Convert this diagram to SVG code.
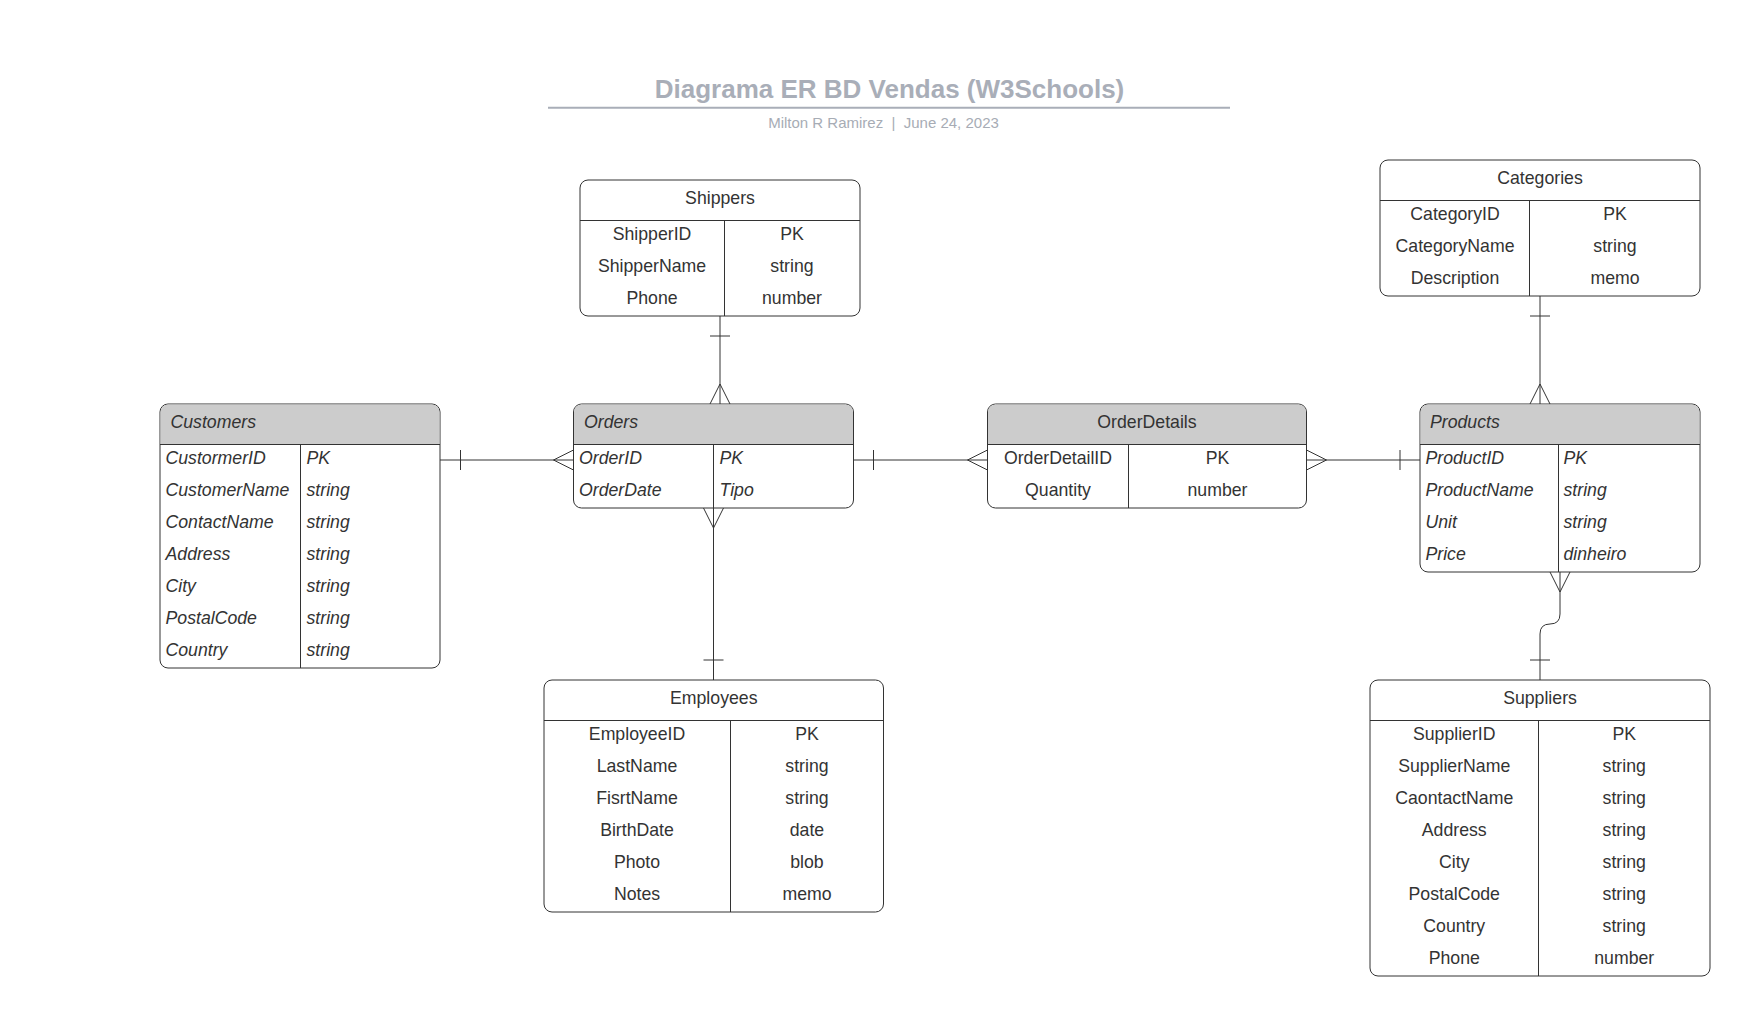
<svg xmlns="http://www.w3.org/2000/svg" width="1757" height="1016" viewBox="0 0 1757 1016">
<style>
.box{fill:#ffffff;stroke:#333333;stroke-width:1}
.hdr{fill:#cccccc;stroke:none}
.div{stroke:#333333;stroke-width:1;fill:none}
.t{font-family:"Liberation Sans",Arial,sans-serif;font-size:17.7px;fill:#333333}
.c{text-anchor:middle}
.i{font-style:italic}
.con{stroke:#333333;stroke-width:1;fill:none}
.title{font-family:"Liberation Sans",Arial,sans-serif;font-size:26px;font-weight:bold;fill:#a9aeb8;text-anchor:middle}
.sub{font-family:"Liberation Sans",Arial,sans-serif;font-size:15px;fill:#a7acb5;text-anchor:middle;white-space:pre}
</style>
<rect x="0" y="0" width="1757" height="1016" fill="#ffffff"/>
<g id="title">
<text class="title" x="889.5" y="97.5">Diagrama ER BD Vendas (W3Schools)</text>
<line x1="548" y1="107.7" x2="1230" y2="107.7" stroke="#a9aeb8" stroke-width="2"/>
<text class="sub" x="883.5" y="128">Milton R Ramirez  |  June 24, 2023</text>
</g>

<g id="connectors">
<!-- Shippers - Orders -->
<path class="con" d="M720,316 V404 M710,336 H730 M720,384 L710,404 M720,384 L730,404"/>
<!-- Customers - Orders -->
<path class="con" d="M440,460 H573.5 M460.5,450 V470 M553.5,460 L573.5,450 M553.5,460 L573.5,470"/>
<!-- Orders - Employees -->
<path class="con" d="M713.5,508 V680 M713.5,528 L703.5,508 M713.5,528 L723.5,508 M703.5,660 H723.5"/>
<!-- Orders - OrderDetails -->
<path class="con" d="M853.5,460 H987.5 M873.5,450 V470 M967.5,460 L987.5,450 M967.5,460 L987.5,470"/>
<!-- OrderDetails - Products -->
<path class="con" d="M1306.5,460 H1420 M1400,450 V470 M1326.5,460 L1306.5,450 M1326.5,460 L1306.5,470"/>
<!-- Categories - Products -->
<path class="con" d="M1540,296 V404 M1530,316 H1550 M1540,384 L1530,404 M1540,384 L1550,404"/>
<!-- Products - Suppliers -->
<path class="con" d="M1560,572 V614 Q1560,624 1550,624 Q1540,624 1540,634 V680 M1560,592 L1550,572 M1560,592 L1570,572 M1530,660 H1550"/>
</g>

<g id="shippers">
<rect class="box" x="580" y="180" width="280" height="136" rx="8"/>
<line class="div" x1="580" y1="220.5" x2="860" y2="220.5"/>
<line class="div" x1="724.5" y1="220.5" x2="724.5" y2="316"/>
<text class="t c" x="720" y="204">Shippers</text>
<text class="t c" x="652" y="240">ShipperID</text><text class="t c" x="792" y="240">PK</text>
<text class="t c" x="652" y="272">ShipperName</text><text class="t c" x="792" y="272">string</text>
<text class="t c" x="652" y="304">Phone</text><text class="t c" x="792" y="304">number</text>
</g>

<g id="customers">
<rect class="box" x="160" y="404" width="280" height="264" rx="8"/>
<path class="hdr" d="M160.5,444 V412 A7.5,7.5 0 0 1 168,404.5 H432 A7.5,7.5 0 0 1 439.5,412 V444 Z"/>
<line class="div" x1="160" y1="444.5" x2="440" y2="444.5"/>
<line class="div" x1="300.5" y1="444.5" x2="300.5" y2="668"/>
<text class="t i" x="170.5" y="428">Customers</text>
<text class="t i" x="165.5" y="464">CustormerID</text><text class="t i" x="306.5" y="464">PK</text>
<text class="t i" x="165.5" y="496">CustomerName</text><text class="t i" x="306.5" y="496">string</text>
<text class="t i" x="165.5" y="528">ContactName</text><text class="t i" x="306.5" y="528">string</text>
<text class="t i" x="165.5" y="560">Address</text><text class="t i" x="306.5" y="560">string</text>
<text class="t i" x="165.5" y="592">City</text><text class="t i" x="306.5" y="592">string</text>
<text class="t i" x="165.5" y="624">PostalCode</text><text class="t i" x="306.5" y="624">string</text>
<text class="t i" x="165.5" y="656">Country</text><text class="t i" x="306.5" y="656">string</text>
</g>

<g id="orders">
<rect class="box" x="573.5" y="404" width="280" height="104" rx="8"/>
<path class="hdr" d="M574,444 V412 A7.5,7.5 0 0 1 581.5,404.5 H845.5 A7.5,7.5 0 0 1 853,412 V444 Z"/>
<line class="div" x1="573.5" y1="444.5" x2="853.5" y2="444.5"/>
<line class="div" x1="713.5" y1="444.5" x2="713.5" y2="508"/>
<text class="t i" x="584" y="428">Orders</text>
<text class="t i" x="579" y="464">OrderID</text><text class="t i" x="719.5" y="464">PK</text>
<text class="t i" x="579" y="496">OrderDate</text><text class="t i" x="719.5" y="496">Tipo</text>
</g>

<g id="orderdetails">
<rect class="box" x="987.5" y="404" width="319" height="104" rx="8"/>
<path class="hdr" d="M988,444 V412 A7.5,7.5 0 0 1 995.5,404.5 H1298.5 A7.5,7.5 0 0 1 1306,412 V444 Z"/>
<line class="div" x1="987.5" y1="444.5" x2="1306.5" y2="444.5"/>
<line class="div" x1="1128.5" y1="444.5" x2="1128.5" y2="508"/>
<text class="t c" x="1147" y="428">OrderDetails</text>
<text class="t c" x="1058" y="464">OrderDetailID</text><text class="t c" x="1217.5" y="464">PK</text>
<text class="t c" x="1058" y="496">Quantity</text><text class="t c" x="1217.5" y="496">number</text>
</g>

<g id="categories">
<rect class="box" x="1380" y="160" width="320" height="136" rx="8"/>
<line class="div" x1="1380" y1="200.5" x2="1700" y2="200.5"/>
<line class="div" x1="1529.5" y1="200.5" x2="1529.5" y2="296"/>
<text class="t c" x="1540" y="184">Categories</text>
<text class="t c" x="1455" y="220">CategoryID</text><text class="t c" x="1615" y="220">PK</text>
<text class="t c" x="1455" y="252">CategoryName</text><text class="t c" x="1615" y="252">string</text>
<text class="t c" x="1455" y="284">Description</text><text class="t c" x="1615" y="284">memo</text>
</g>

<g id="products">
<rect class="box" x="1420" y="404" width="280" height="168" rx="8"/>
<path class="hdr" d="M1420.5,444 V412 A7.5,7.5 0 0 1 1428,404.5 H1692 A7.5,7.5 0 0 1 1699.5,412 V444 Z"/>
<line class="div" x1="1420" y1="444.5" x2="1700" y2="444.5"/>
<line class="div" x1="1558.5" y1="444.5" x2="1558.5" y2="572"/>
<text class="t i" x="1430" y="428">Products</text>
<text class="t i" x="1425.5" y="464">ProductID</text><text class="t i" x="1563.5" y="464">PK</text>
<text class="t i" x="1425.5" y="496">ProductName</text><text class="t i" x="1563.5" y="496">string</text>
<text class="t i" x="1425.5" y="528">Unit</text><text class="t i" x="1563.5" y="528">string</text>
<text class="t i" x="1425.5" y="560">Price</text><text class="t i" x="1563.5" y="560">dinheiro</text>
</g>

<g id="employees">
<rect class="box" x="544" y="680" width="339.5" height="232" rx="8"/>
<line class="div" x1="544" y1="720.5" x2="883.5" y2="720.5"/>
<line class="div" x1="730.5" y1="720.5" x2="730.5" y2="912"/>
<text class="t c" x="713.75" y="704">Employees</text>
<text class="t c" x="637" y="740">EmployeeID</text><text class="t c" x="807" y="740">PK</text>
<text class="t c" x="637" y="772">LastName</text><text class="t c" x="807" y="772">string</text>
<text class="t c" x="637" y="804">FisrtName</text><text class="t c" x="807" y="804">string</text>
<text class="t c" x="637" y="836">BirthDate</text><text class="t c" x="807" y="836">date</text>
<text class="t c" x="637" y="868">Photo</text><text class="t c" x="807" y="868">blob</text>
<text class="t c" x="637" y="900">Notes</text><text class="t c" x="807" y="900">memo</text>
</g>

<g id="suppliers">
<rect class="box" x="1370" y="680" width="340" height="296" rx="8"/>
<line class="div" x1="1370" y1="720.5" x2="1710" y2="720.5"/>
<line class="div" x1="1538.5" y1="720.5" x2="1538.5" y2="976"/>
<text class="t c" x="1540" y="704">Suppliers</text>
<text class="t c" x="1454.25" y="740">SupplierID</text><text class="t c" x="1624.25" y="740">PK</text>
<text class="t c" x="1454.25" y="772">SupplierName</text><text class="t c" x="1624.25" y="772">string</text>
<text class="t c" x="1454.25" y="804">CaontactName</text><text class="t c" x="1624.25" y="804">string</text>
<text class="t c" x="1454.25" y="836">Address</text><text class="t c" x="1624.25" y="836">string</text>
<text class="t c" x="1454.25" y="868">City</text><text class="t c" x="1624.25" y="868">string</text>
<text class="t c" x="1454.25" y="900">PostalCode</text><text class="t c" x="1624.25" y="900">string</text>
<text class="t c" x="1454.25" y="932">Country</text><text class="t c" x="1624.25" y="932">string</text>
<text class="t c" x="1454.25" y="964">Phone</text><text class="t c" x="1624.25" y="964">number</text>
</g>
</svg>
